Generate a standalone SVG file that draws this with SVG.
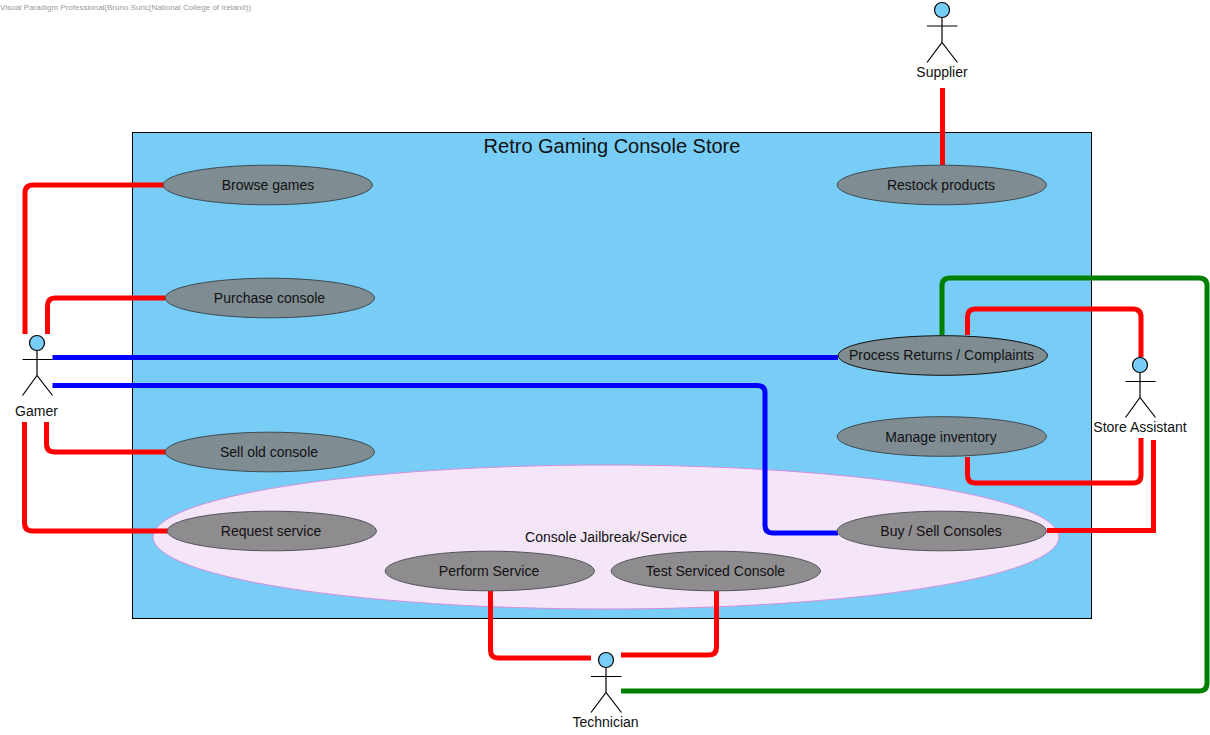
<svg xmlns="http://www.w3.org/2000/svg" width="1210" height="735" viewBox="0 0 1210 735">
<style>
text{font-family:"Liberation Sans",Arial,sans-serif;font-size:14px;fill:#111;text-anchor:middle}
.uc{stroke:#3c4a52;stroke-width:1;fill:#7f8c92}
.ucp{stroke:#55535a;stroke-width:1;fill:#8f8c90}
.c{fill:none;stroke-width:5;stroke-linecap:butt;stroke-linejoin:round}
.r{stroke:#ff0000}.b{stroke:#0000ff}.g{stroke:#008000}
.fig{fill:none;stroke:#000;stroke-width:1.2}
.head{fill:#77cdf5;stroke:#000;stroke-width:1.2}
</style>
<rect width="1210" height="735" fill="#fff"/>
<text x="0" y="10" style="font-size:8px;fill:#999;text-anchor:start">Visual Paradigm Professional(Bruno Suric(National College of Ireland))</text>
<g id="system">
<rect x="132.500" y="132.500" width="959" height="486" fill="#77cdf5" stroke="#000" stroke-width="1"/>
<text x="612" y="153" style="font-size:20px">Retro Gaming Console Store</text>
</g>
<g id="package-jailbreak">
<ellipse cx="606" cy="537" rx="453" ry="72" fill="#f4e6f8" stroke="#d58fdc" stroke-width="1"/>
<text x="606" y="542">Console Jailbreak/Service</text>
</g>
<g id="connectors">
<path class="c r" d="M164 185H33Q25 185 25 193V334"/>
<path class="c r" d="M165 298H55Q47.500 298 47.500 306V334"/>
<path class="c b" d="M52.500 357.500H838"/>
<path class="c b" d="M52.500 385.500H757Q765 385.500 765 393V525Q765 533 773 533H838"/>
<path class="c r" d="M166 452H55Q46.500 452 46.500 444V422"/>
<path class="c r" d="M168 531H33Q24.500 531 24.500 523V422"/>
<path class="c g" d="M942 335V286Q942 278 950 278H1199Q1207 278 1207 286V683Q1207 691 1199 691H621"/>
<path class="c r" d="M967.500 335V317Q967.500 309 975 309H1133Q1141 309 1141 317V357"/>
<path class="c r" d="M967.500 457V475Q967.500 483 975 483H1133Q1141 483 1141 475V438"/>
<path class="c r" d="M1047 530.500H1153.500V440" style="stroke-linejoin:miter"/>
<path class="c r" d="M490.500 591V650Q490.500 658 498 658H591"/>
<path class="c r" d="M716.500 591V647Q716.500 655 709 655H621"/>
<path class="c r" d="M942.500 88V165"/>
</g>
<g id="uc-browse"><ellipse class="uc" cx="267.800" cy="185" rx="104.600" ry="19.800"/><text x="268" y="190">Browse games</text></g>
<g id="uc-purchase"><ellipse class="uc" cx="269.800" cy="298" rx="104.600" ry="19.800"/><text x="269.500" y="303">Purchase console</text></g>
<g id="uc-sell"><ellipse class="uc" cx="269.800" cy="452" rx="104.600" ry="19.800"/><text x="269" y="457">Sell old console</text></g>
<g id="uc-request"><ellipse class="ucp" cx="271.800" cy="531" rx="104.600" ry="19.800"/><text x="271" y="536">Request service</text></g>
<g id="uc-perform"><ellipse class="ucp" cx="489.800" cy="571" rx="104.600" ry="19.800"/><text x="489" y="576">Perform Service</text></g>
<g id="uc-test"><ellipse class="ucp" cx="715.800" cy="571" rx="104.600" ry="19.800"/><text x="715.500" y="576">Test Serviced Console</text></g>
<g id="uc-restock"><ellipse class="uc" cx="941.800" cy="185" rx="104.600" ry="19.800"/><text x="941" y="190">Restock products</text></g>
<g id="uc-returns"><ellipse class="uc" cx="942.800" cy="355.500" rx="104.600" ry="19.800" style="stroke:#111"/><text x="941.500" y="360">Process Returns / Complaints</text></g>
<g id="uc-inventory"><ellipse class="uc" cx="941.800" cy="436.500" rx="104.600" ry="19.800"/><text x="941" y="442">Manage inventory</text></g>
<g id="uc-buysell"><ellipse class="ucp" cx="941.800" cy="531" rx="104.600" ry="19.800"/><text x="941" y="536">Buy / Sell Consoles</text></g>
<g id="actor-supplier">
<circle class="head" cx="942" cy="10" r="7.500"/><path class="fig" d="M942 17.500V42.500M927 26H957.500M927 62.500L942 42.500L957.500 62.500"/>
<text x="942" y="77">Supplier</text></g>
<g id="actor-gamer">
<circle class="head" cx="37" cy="343" r="7.500"/><path class="fig" d="M37 350.500V375.500M22.500 359.500H52.500M22.500 395.500L37 375.500L52.500 395.500"/>
<text x="36.500" y="416">Gamer</text></g>
<g id="actor-store">
<circle class="head" cx="1140" cy="365" r="7.500"/><path class="fig" d="M1140 372.500V397.500M1125.500 381.500H1155.500M1125.500 417.500L1140 397.500L1155.500 417.500"/>
<text x="1140" y="432">Store Assistant</text></g>
<g id="actor-technician">
<circle class="head" cx="606" cy="660" r="7.500"/><path class="fig" d="M606 667.500V692.500M591 676.500H621.500M591 712.500L606 692.500L621.500 712.500"/>
<text x="605.500" y="727">Technician</text></g>
</svg>
